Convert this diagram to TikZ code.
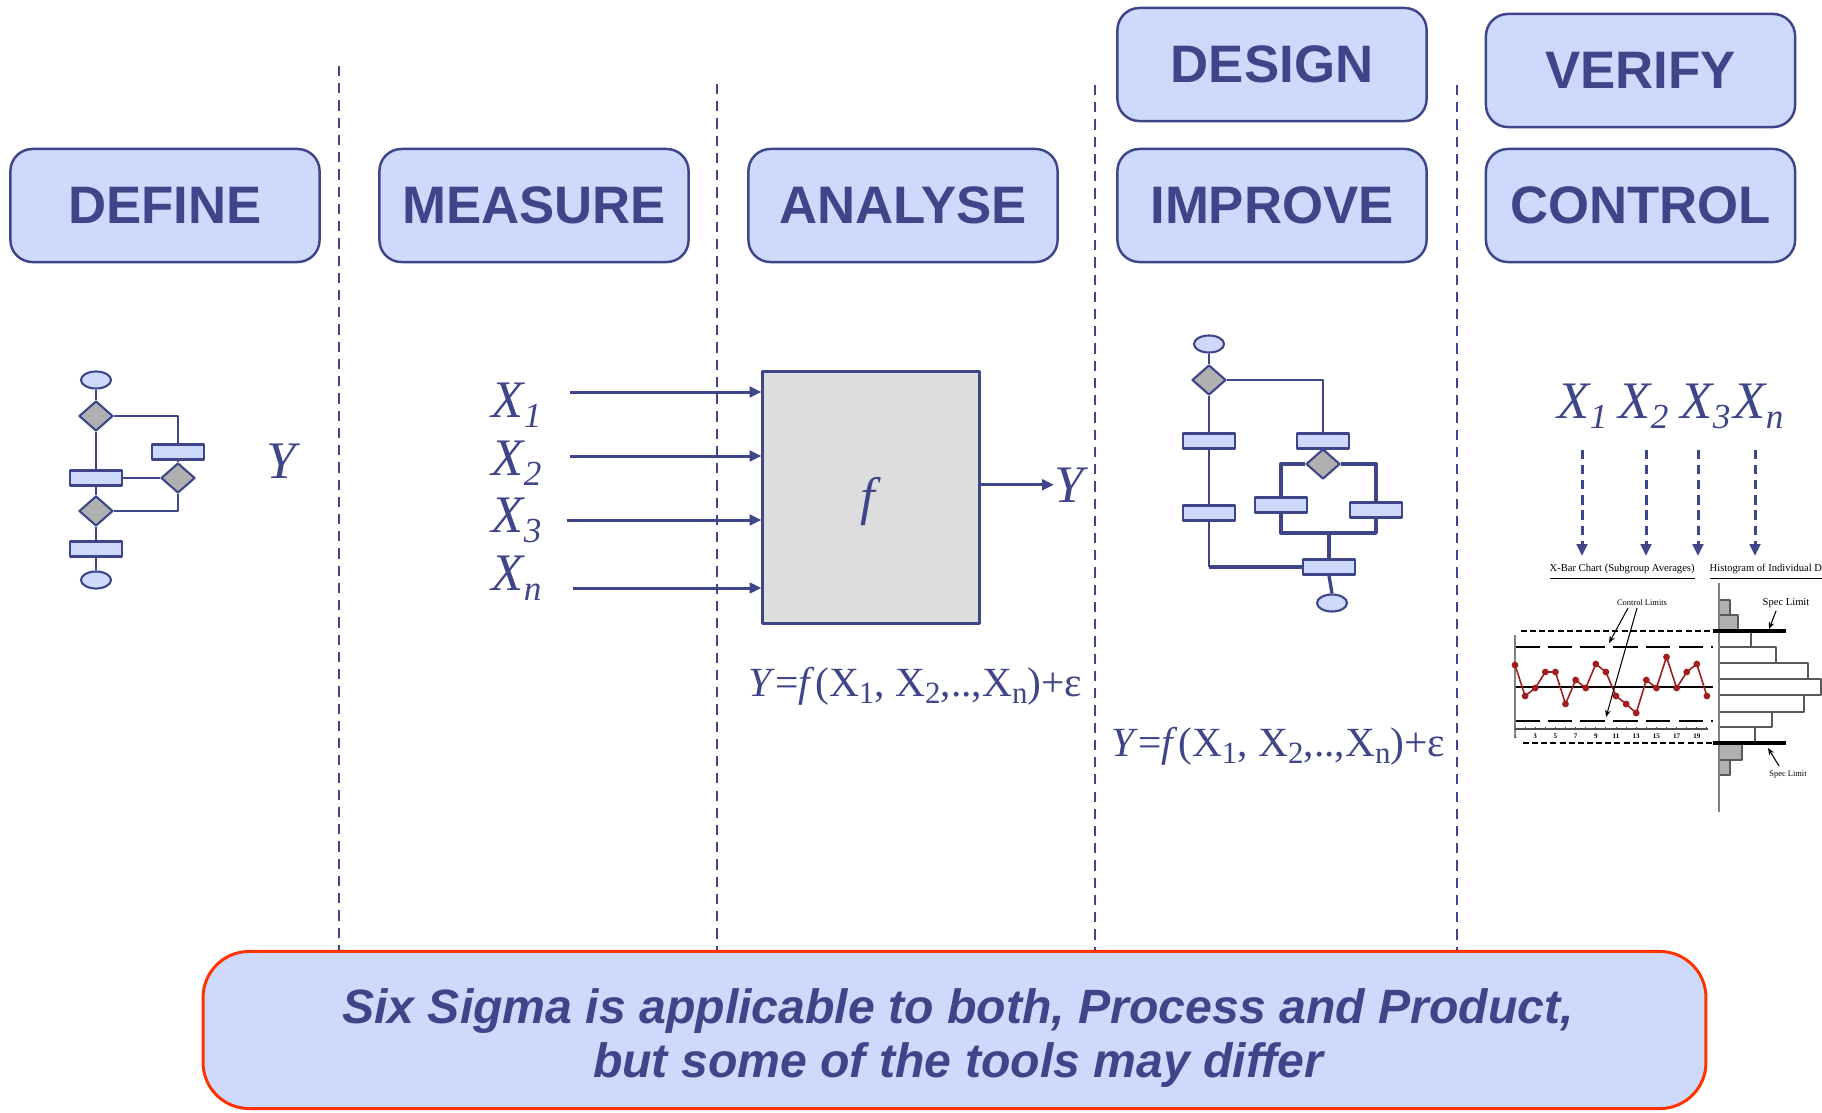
\documentclass[tikz,border=0pt]{standalone}
\usepackage{fontspec}
\setmainfont{Liberation Serif}
\setsansfont{Liberation Sans}
\usepackage{graphicx}
\usetikzlibrary{shapes.geometric,arrows.meta}

\definecolor{navy}{RGB}{63,69,137}
\definecolor{paleblue}{RGB}{205,218,251}
\definecolor{flowgray}{RGB}{176,176,176}
\definecolor{boxgray}{RGB}{221,221,221}
\definecolor{noteborder}{RGB}{255,51,0}
\definecolor{chartred}{RGB}{160,30,30}
\definecolor{axisgray}{RGB}{128,128,128}

\newcommand{\hdfont}{\sffamily\bfseries\fontsize{15}{18}\selectfont}
\newcommand{\varfont}{\itshape\fontsize{15}{18}\selectfont}
\newcommand{\isub}[1]{\raisebox{-3pt}{\fontsize{10}{10}\selectfont #1}}
\newcommand{\rsub}[1]{\raisebox{-2.2pt}{\fontsize{8.8}{9}\selectfont #1}}
\newcommand{\modeleq}{\fontsize{11.8}{14}\selectfont\textit{Y}=\textit{f}(X\rsub{1}, X\rsub{2},..,X\rsub{n})+ε}
\newcommand{\chartfont}[1]{\fontsize{#1}{#1}\selectfont}

\begin{document}
\begin{tikzpicture}[x=0.01cm, y=-0.01cm, line join=round,
  phase/.style={draw=navy, line width=0.7pt, fill=paleblue, rounded corners=0.22cm,
    minimum width=3.09cm, minimum height=1.13cm, inner sep=0, text=navy, font=\hdfont},
  sep/.style={navy, line width=0.7pt, dash pattern=on 2.9pt off 2pt},
  flowline/.style={navy, line width=0.6pt},
  flowthick/.style={navy, line width=0.95pt},
  proc/.style={draw=navy, line width=0.6pt, fill=paleblue, minimum width=0.52cm,
    minimum height=0.15cm, inner sep=0},
  decis/.style={diamond, draw=navy, line width=0.6pt, fill=flowgray, minimum width=0.34cm,
    minimum height=0.30cm, inner sep=0},
  terminal/.style={ellipse, draw=navy, line width=0.6pt, fill=paleblue, minimum width=0.30cm,
    minimum height=0.17cm, inner sep=0},
  var/.style={text=navy, font=\varfont, inner sep=0},
  arr/.style={navy, line width=0.85pt, -{Triangle[length=3.4pt,width=3pt]}},
  dasharr/.style={navy, line width=0.85pt, dash pattern=on 2.6pt off 1.7pt,
    -{Triangle[length=3.4pt,width=3pt]}},
  tinytext/.style={inner sep=0, text=black},
  callout/.style={black, line width=0.3pt, -{Stealth[length=2pt,width=1.6pt]}}
]
\useasboundingbox (0,0) rectangle (1822,1112);

% phase separators
\draw[sep] (339,66) -- (339,950);
\draw[sep] (717,84) -- (717,950);
\draw[sep] (1095,85) -- (1095,950);
\draw[sep] (1457,85) -- (1457,950);

% phase headers
\node[phase] (define)  at (165,205.5)   {DEFINE};
\node[phase] (measure) at (534,205.5)   {MEASURE};
\node[phase] (analyse) at (903,205.5)   {ANALYSE};
\node[phase] (improve) at (1272,205.5)  {IMPROVE};
\node[phase] (control) at (1640.5,205.5){CONTROL};
\node[phase] (design)  at (1272,64.5)   {DESIGN};
\node[phase] (verify)  at (1640.5,70.5) {VERIFY};

% DEFINE: process flowchart
\node[terminal] (dtop) at (96,380) {};
\node[decis] (dd1) at (96,416) {};
\node[proc] (drr) at (178,452) {};
\node[decis] (ddr) at (178,478) {};
\node[proc] (drl) at (96,478) {};
\node[decis] (dd2) at (96,511) {};
\node[proc] (drb) at (96,549) {};
\node[terminal] (dbot) at (96,580) {};
\draw[flowline] (dtop) -- (dd1);
\draw[flowline] (dd1.east) -| (drr.north);
\draw[flowline] (drr) -- (ddr);
\draw[flowline] (dd1) -- (drl);
\draw[flowline] (drl) -- (ddr);
\draw[flowline] (drl) -- (dd2);
\draw[flowline] (dd2.east) -| (ddr.south);
\draw[flowline] (dd2) -- (drb);
\draw[flowline] (drb) -- (dbot);
\node[var] (ydef) at (281,461) {Y};

% MEASURE / ANALYSE: transfer function
\node[draw=navy, line width=0.85pt, fill=boxgray, minimum width=2.16cm,
      minimum height=2.51cm, inner sep=0] (fbox) at (871,497.5) {};
\node[var] (fsym) at (868,502) {f};
\node[var, anchor=base west] (x1) at (491,417) {X\isub{1}};
\node[var, anchor=base west] (x2) at (491,475) {X\isub{2}};
\node[var, anchor=base west] (x3) at (491,532) {X\isub{3}};
\node[var, anchor=base west] (xn) at (491,590) {X\isub{n}};
\coordinate (s1) at (570,392);
\coordinate (s2) at (570,456);
\coordinate (s3) at (567,520);
\coordinate (s4) at (573,588);
\draw[arr] (s1) -- (s1 -| fbox.west);
\draw[arr] (s2) -- (s2 -| fbox.west);
\draw[arr] (s3) -- (s3 -| fbox.west);
\draw[arr] (s4) -- (s4 -| fbox.west);
\node[var, anchor=base west] (yout) at (1054,502) {Y};
\draw[arr] (fbox.east |- yout.west) -- (yout.west);
\node[text=navy, inner sep=0, anchor=base west] (eqa) at (748,696) {\modeleq};

% IMPROVE: process flowchart
\node[terminal] (itop) at (1209,344) {};
\node[decis] (id1) at (1209,380) {};
\node[proc] (il1) at (1209,441) {};
\node[proc] (il2) at (1209,513) {};
\node[proc] (ir1) at (1323,441) {};
\node[decis] (id2) at (1323,464) {};
\node[proc] (im1) at (1281,505) {};
\node[proc] (im2) at (1376,510) {};
\coordinate (ijoin) at (1329,533);
\node[proc] (ib) at (1329,567) {};
\node[terminal] (ibot) at (1332,603) {};
\draw[flowline] (itop) -- (id1);
\draw[flowline] (id1.east) -| (ir1.north);
\draw[flowline] (id1) -- (il1);
\draw[flowline] (il1) -- (il2);
\draw[flowline] (il2.south) -- (il2.south |- ib.west);
\draw[flowthick] (il2.south |- ib.west) -- (ib.west);
\draw[flowline] (ir1) -- (id2);
\draw[flowthick] (id2.west) -| (im1.north);
\draw[flowthick] (id2.east) -| (im2.north);
\draw[flowthick] (im1.south) |- (ijoin) -| (im2.south);
\draw[flowthick] (ijoin) -- (ib.north);
\draw[flowthick] (ib.south) -- (ibot.north);
\node[text=navy, inner sep=0, anchor=base west] (eqi) at (1111,756) {\modeleq};

% CONTROL: inputs feeding the control chart
\node[var, anchor=base west] (c1) at (1557,418) {X\isub{1}};
\node[var, anchor=base west] (c2) at (1618,418) {X\isub{2}};
\node[var, anchor=base west] (c3) at (1680,418) {X\isub{3}};
\node[var, anchor=base west] (cn) at (1733,418) {X\isub{n}};
\coordinate (t1) at (1582,450); \coordinate (h1) at (1582,556);
\coordinate (t2) at (1646,450); \coordinate (h2) at (1646,556);
\coordinate (t3) at (1698,450); \coordinate (h3) at (1698,556);
\coordinate (t4) at (1755,450); \coordinate (h4) at (1755,556);
\draw[dasharr] (t1) -- (h1);
\draw[dasharr] (t2) -- (h2);
\draw[dasharr] (t3) -- (h3);
\draw[dasharr] (t4) -- (h4);

\begin{scope}
\clip (1490,545) rectangle (1822,830);
\node[tinytext, anchor=base west, font=\chartfont{3}] (xbartitle) at (1549,571)
  {\underline{X-Bar Chart (Subgroup Averages)}};
\node[tinytext, anchor=base west, font=\chartfont{3}] (histtitle) at (1709,571)
  {\underline{Histogram of Individual D}};
% histogram
\foreach \ya/\yb/\xr/\fc in {600/615/1730/flowgray, 615/631/1738/flowgray,
    631/647/1751/white, 647/663/1776/white, 663/679/1808/white, 679/695/1821/white,
    695/712/1804/white, 712/727/1772/white, 727/743/1755/white,
    743/760/1742/flowgray, 760/775/1730/flowgray}
  \draw[line width=0.4pt, draw=black!65, fill=\fc] (1719,\ya) rectangle (\xr,\yb);
\draw[axisgray, line width=0.7pt] (1719,583) -- (1719,812);
% spec limits
\draw[black, line width=0.5pt, dash pattern=on 1.7pt off 0.9pt] (1521,631) -- (1713,631);
\draw[black, line width=0.9pt] (1713,631) -- (1786,631);
\draw[black, line width=0.5pt, dash pattern=on 1.7pt off 0.9pt] (1523,743) -- (1713,743);
\draw[black, line width=0.9pt] (1713,743) -- (1786,743);
% control limits and centre line
\draw[black, line width=0.5pt, dash pattern=on 7pt off 2.3pt] (1515,647) -- (1713,647);
\draw[black, line width=0.5pt, dash pattern=on 7pt off 2.3pt] (1515,721) -- (1713,721);
\draw[black, line width=0.6pt] (1515,687) -- (1713,687);
% axes
\draw[axisgray, line width=0.6pt] (1515,635) -- (1515,733);
\draw[black!70, line width=0.4pt] (1515,729) -- (1708,729);
\foreach \i in {0,...,19} \draw[black!70, line width=0.3pt] (1515+10.1*\i,729) -- ++(0,-2);
\foreach \k in {1,3,...,19}
  \node[tinytext, font=\bfseries\chartfont{2}] at (1515+10.1*\k-10.1,736) {\k};
% subgroup averages
\draw[chartred, line width=0.45pt] plot coordinates {(1515,665) (1525.1,696) (1535.2,688)
  (1545.3,672) (1555.4,672) (1565.5,704) (1575.6,680) (1585.7,688) (1595.8,664)
  (1605.9,672) (1616,696) (1626.1,704) (1636.2,713) (1646.3,680) (1656.4,688)
  (1666.5,657) (1676.6,688) (1686.7,672) (1696.8,664) (1706.9,696)};
\foreach \px/\py in {1515/665, 1525.1/696, 1535.2/688, 1545.3/672, 1555.4/672,
    1565.5/704, 1575.6/680, 1585.7/688, 1595.8/664, 1605.9/672, 1616/696, 1626.1/704,
    1636.2/713, 1646.3/680, 1656.4/688, 1666.5/657, 1676.6/688, 1686.7/672,
    1696.8/664, 1706.9/696}
  \fill[chartred] (\px,\py) circle (0.034cm);
% annotations
\node[tinytext, font=\chartfont{2.4}] (cltext) at (1642,603) {Control Limits};
\draw[callout] (1628,608) -- (1609,643);
\draw[callout] (1637,608) -- (1606,717);
\node[tinytext, font=\chartfont{3}] (spec1) at (1786,603) {Spec Limit};
\draw[callout] (1776,611) -- (1769,629);
\node[tinytext, font=\chartfont{2.4}] (spec2) at (1788,775) {Spec Limit};
\draw[callout] (1779,766) -- (1768,748);
\end{scope}

% closing note
\node[draw=noteborder, line width=0.85pt, fill=paleblue, rounded corners=0.46cm,
      minimum width=15.02cm, minimum height=1.57cm, inner sep=0] (note) at (954.5,1030) {};
\node[text=navy, align=center, inner sep=0,
      font=\sffamily\bfseries\itshape\fontsize{13.7}{15.6}\selectfont] (notetext) at (958,1038)
  {Six Sigma is applicable to both, Process and Product,\\but some of the tools may differ};
\end{tikzpicture}
\end{document}
